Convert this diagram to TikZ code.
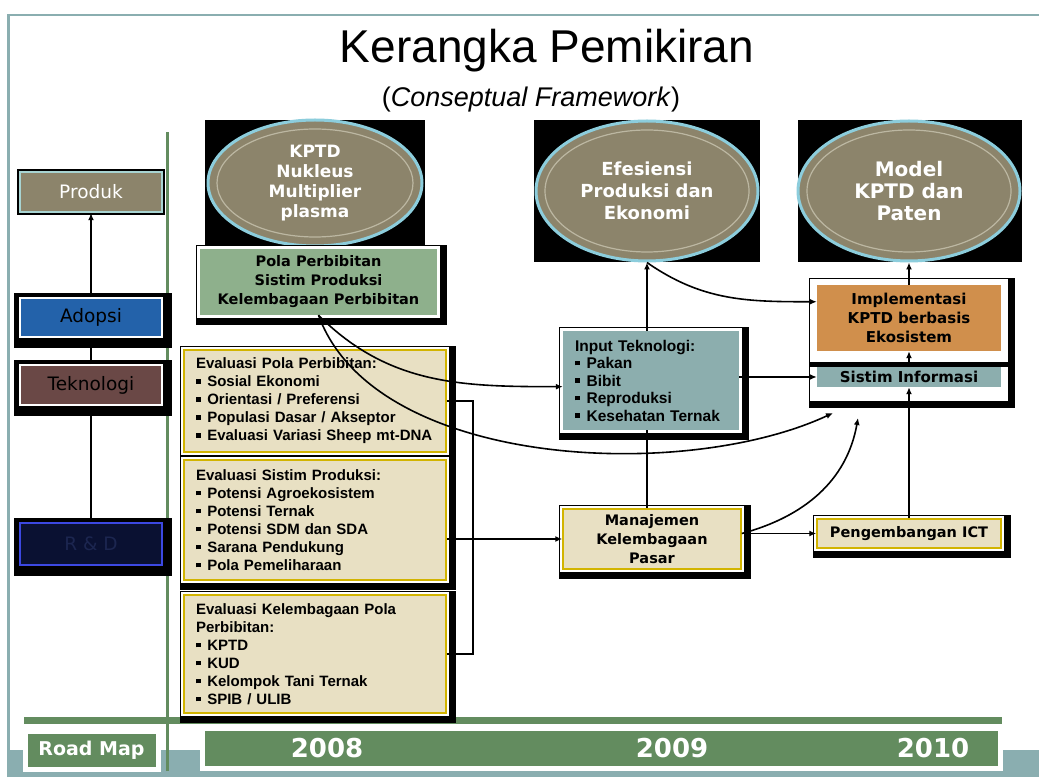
\documentclass[tikz,border=0pt]{standalone}
\usepackage{fontspec}
\setmainfont{Liberation Sans}
\newfontfamily\tahoma{DejaVu Sans}
\usetikzlibrary{positioning,shapes.geometric,arrows.meta}

\definecolor{khaki}{RGB}{140,132,107}
\definecolor{ovalrim}{RGB}{140,205,220}
\definecolor{ovalring}{RGB}{188,183,162}
\definecolor{framegrey}{RGB}{138,174,176}
\definecolor{mapgreen}{RGB}{99,140,95}
\definecolor{adopblue}{RGB}{35,98,170}
\definecolor{teknored}{RGB}{106,72,70}
\definecolor{navy}{RGB}{10,17,50}
\definecolor{navyrim}{RGB}{60,72,225}
\definecolor{rndtext}{RGB}{28,38,80}
\definecolor{polagreen}{RGB}{142,176,140}
\definecolor{beige}{RGB}{232,224,195}
\definecolor{gold}{RGB}{210,180,0}
\definecolor{infoteal}{RGB}{140,174,174}
\definecolor{implorange}{RGB}{208,143,76}
\definecolor{prodrim}{RGB}{168,212,210}

\newcommand{\bul}{\rule[.2em]{.3em}{.3em}\hspace{.45em}}

\begin{document}
\begin{tikzpicture}[x=1pt, y=1pt, >={Latex[length=7pt,width=6pt]},
    panel/.style={fill=#1, inner sep=1pt,
        preaction={draw=black, line width=14pt, transform canvas={shift={(3,-3)}}},
        preaction={draw=white, line width=6pt}},
    lbox/.style={fill=#1, draw=white, line width=1.5pt, minimum width=142pt, minimum height=40pt,
        font=\tahoma\fontsize{18.5}{20}\selectfont,
        preaction={draw=black, line width=16pt, transform canvas={shift={(2,-3)}}}},
    prodbox/.style={fill=khaki, draw=prodrim, line width=2.5pt, minimum width=142pt, minimum height=40pt,
        text=white, font=\tahoma\fontsize{18.5}{20}\selectfont, preaction={draw=black, line width=6pt}},
    oval/.style={ellipse, fill=khaki, draw=ovalrim, line width=3pt, inner sep=0pt, align=center, text=white},
    ring/.style={draw=ovalring, line width=1.2pt},
    evalbox/.style={panel=beige, draw=gold, line width=1.5pt, minimum width=262pt, text width=238pt,
        inner xsep=12pt, align=left, font=\bfseries\fontsize{15}{18}\selectfont},
    boldbox/.style={font=\tahoma\bfseries\fontsize{#1}{19}\selectfont, align=center, inner sep=1pt},
    mapbox/.style={fill=mapgreen, draw=white, line width=5pt, text=white, font=\tahoma\bfseries\fontsize{19}{22}\selectfont},
    yearlabel/.style={text=white, font=\tahoma\bfseries\fontsize{26}{30}\selectfont},
    link/.style={line width=1.6pt},
    thinlink/.style={line width=1.2pt}]

\fill[white] (0,0) rectangle (1039,777);
\useasboundingbox (0,0) rectangle (1039,777);
\draw[framegrey, line width=2.5pt] (8.5,0) -- (8.5,762) -- (1039,762);
\fill[framegrey] (8.5,0) rectangle (1039,27);
\draw[mapgreen, line width=7pt] (24,56.5) -- (1002,56.5);
\draw[mapgreen, line width=3pt] (167,6) -- (167,645);

\node[mapbox, minimum width=133pt, minimum height=38pt] (roadmap) at (91.5,27) {Road Map};
\node[mapbox, minimum width=798pt, minimum height=40pt] (years) at (601,29) {};
\node[yearlabel] (y2008) at (327,29) {2008};
\node[yearlabel] (y2009) at (672,29) {2009};
\node[yearlabel] (y2010) at (933,29) {2010};

\node[anchor=base, font=\fontsize{46}{50}\selectfont] (head) at (547,714) {Kerangka Pemikiran};
\node[anchor=base, font=\fontsize{27}{30}\selectfont] (subhead) at (531,670) {(\textit{Conseptual Framework})};

\node[lbox=navy, draw=navyrim, text=rndtext, minimum height=42pt] (rnd) at (91,233) {R \& D};
\node[lbox=teknored] (tekno) at (91,392) {Teknologi};
\node[lbox=adopblue, minimum height=39pt] (adopsi) at (91,459.5) {Adopsi};
\node[prodbox] (produk) at (91,585) {Produk};

\fill (205,657) rectangle (425,532);
\fill (534,657) rectangle (760,515);
\fill (798,657) rectangle (1022,515);
\node[oval, minimum width=214pt, minimum height=126pt, font=\tahoma\bfseries\fontsize{17}{20}\selectfont] (kptd) at (315,594) {KPTD\\Nukleus\\Multiplier\\plasma};
\node[oval, minimum width=222pt, minimum height=140pt, font=\tahoma\bfseries\fontsize{18}{22}\selectfont] (efis) at (647,586) {Efesiensi\\Produksi dan\\Ekonomi};
\node[oval, minimum width=222pt, minimum height=140pt, font=\tahoma\bfseries\fontsize{20}{22}\selectfont] (model) at (909,586) {Model\\KPTD dan\\Paten};
\draw[ring] (kptd.center) ellipse [x radius=98pt, y radius=54pt];
\draw[ring] (efis.center) ellipse [x radius=102pt, y radius=61pt];
\draw[ring] (model.center) ellipse [x radius=102pt, y radius=61pt];

\node[panel=polagreen, boldbox=14.5, minimum width=237pt, minimum height=66pt] (pola) at (318.5,495) {Pola Perbibitan\\Sistim Produksi\\Kelembagaan Perbibitan};

\node[evalbox, minimum height=102pt] (eval1) at (315,376) {Evaluasi Pola Perbibitan:\\ \bul Sosial Ekonomi\\ \bul Orientasi / Preferensi\\ \bul Populasi Dasar / Akseptor\\ \bul Evaluasi Variasi Sheep mt-DNA};
\node[evalbox, minimum height=120pt] (eval2) [below=6.5pt of eval1] {Evaluasi Sistim Produksi:\\ \bul Potensi Agroekosistem\\ \bul Potensi Ternak\\ \bul Potensi SDM dan SDA\\ \bul Sarana Pendukung\\ \bul Pola Pemeliharaan};
\node[evalbox, minimum height=118pt] (eval3) [below=13.5pt of eval2] {Evaluasi Kelembagaan Pola\\ Perbibitan:\\ \bul KPTD\\ \bul KUD\\ \bul Kelompok Tani Ternak\\ \bul SPIB / ULIB};

\node[panel=infoteal, minimum width=176pt, minimum height=99pt, text width=152pt, inner xsep=12pt, align=left,
    font=\bfseries\fontsize{15.5}{17.5}\selectfont] (input) at (651,396.5) {Input Teknologi:\\ \bul Pakan\\ \bul Bibit\\ \bul Reproduksi\\ \bul Kesehatan Ternak};

\node[panel=beige, draw=gold, line width=1.5pt, boldbox=14.5, minimum width=178pt, minimum height=60pt] (manaj) at (652,238) {Manajemen\\Kelembagaan\\Pasar};

\node[panel=white, minimum width=192pt, minimum height=116pt] (implframe) at (909,437) {};
\fill (809,410) rectangle (1015,415);
\node[fill=implorange, boldbox=15, minimum width=184pt, minimum height=66pt] (impl) at (909,459) {Implementasi\\KPTD berbasis\\Ekosistem};
\node[fill=infoteal, boldbox=15, minimum width=184pt, minimum height=20pt] (sisinfo) at (909,400) {Sistim Informasi};

\node[panel=beige, draw=gold, line width=1.5pt, boldbox=14.5, minimum width=184pt, minimum height=29pt] (ict) at (909,243.5) {Pengembangan ICT};

\coordinate (sia) at (858,359);
\coordinate (sib) at (833,364);

\draw[->, thinlink] (rnd) -- (tekno);
\draw[->, thinlink] (tekno) -- (adopsi);
\draw[->, thinlink] (adopsi) -- (produk);
\draw[->, link] (input.north -| efis) -- (efis.south);
\draw[link] (input.south -| efis) -- (manaj.north -| efis);
\draw[->, link] (input.east |- sisinfo) -- (sisinfo);
\draw[->, link] (efis.south) to[out=-35, in=180] (impl.170);
\draw[->, link] (impl) -- (model);
\draw[->, link] (ict) -- (sisinfo);
\draw[->, link] (sisinfo) -- (impl);
\draw[->, link] (manaj.east |- ict) -- (ict);
\draw[->, link] (manaj.east |- ict) to[out=15, in=-100] (sia);
\draw[->, link] (eval2.east |- manaj) -- (manaj);
\draw[link] (eval1.east) -- ++(26,0) |- (eval3.east);
\draw[->, link] (pola.south) to[out=-45, in=180] (input.184);
\draw[->, link] (pola.south) to[out=-70, in=-155, looseness=0.8] (sib);
\end{tikzpicture}
\end{document}
